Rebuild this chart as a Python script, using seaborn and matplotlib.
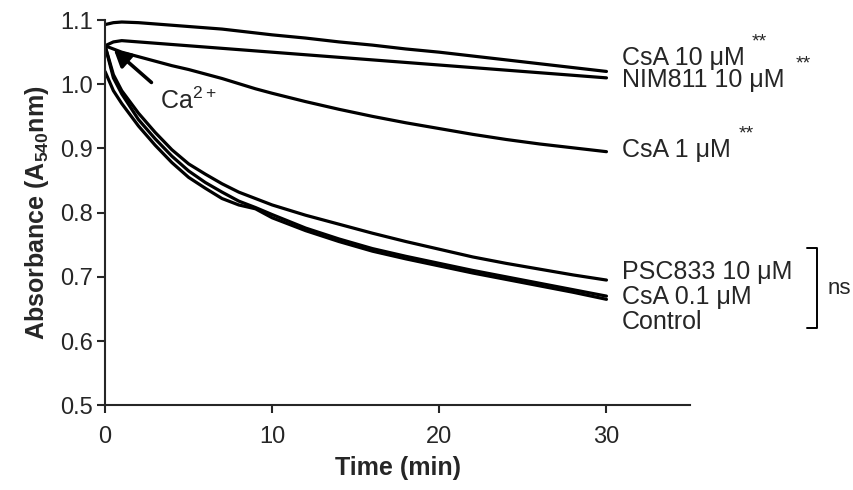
import pandas as pd
import matplotlib
matplotlib.use('Agg')
import matplotlib.pyplot as plt
import seaborn as sns

# time points (min) and absorbance traces
time = [0, 0.5, 1, 2, 3, 4, 5, 6, 7, 8, 9, 10, 12, 14, 16, 18, 20, 22, 24, 26, 28, 30]
csa10 = [1.093, 1.096, 1.097, 1.096, 1.094, 1.092, 1.090, 1.088, 1.086, 1.083, 1.080, 1.077,
         1.072, 1.066, 1.061, 1.055, 1.050, 1.044, 1.038, 1.032, 1.026, 1.020]
nim811 = [1.060, 1.066, 1.068, 1.066, 1.064, 1.062, 1.060, 1.058, 1.056, 1.054, 1.052, 1.050,
          1.046, 1.042, 1.038, 1.034, 1.030, 1.026, 1.022, 1.018, 1.014, 1.010]
csa1 = [1.060, 1.055, 1.050, 1.043, 1.036, 1.029, 1.023, 1.016, 1.009, 1.001, 0.993, 0.986,
        0.973, 0.961, 0.950, 0.940, 0.931, 0.922, 0.914, 0.907, 0.901, 0.895]
psc833 = [1.060, 1.015, 0.990, 0.955, 0.925, 0.898, 0.876, 0.860, 0.845, 0.832, 0.822, 0.812,
          0.796, 0.782, 0.768, 0.755, 0.743, 0.731, 0.721, 0.712, 0.703, 0.695]
csa01 = [1.060, 1.010, 0.985, 0.945, 0.915, 0.888, 0.865, 0.847, 0.832, 0.818, 0.808, 0.797,
         0.776, 0.759, 0.744, 0.732, 0.721, 0.710, 0.700, 0.690, 0.680, 0.670]
control = [1.020, 0.990, 0.970, 0.935, 0.905, 0.878, 0.855, 0.838, 0.822, 0.812, 0.806, 0.792,
           0.772, 0.755, 0.740, 0.728, 0.717, 0.706, 0.696, 0.686, 0.676, 0.665]

series = {'CsA 10': csa10, 'NIM811 10': nim811, 'CsA 1': csa1,
          'PSC833 10': psc833, 'CsA 0.1': csa01, 'Control': control}
df = pd.concat([pd.DataFrame({'time': time, 'abs': v, 'cond': k}) for k, v in series.items()])

sns.set_style('ticks')
plt.rcParams['font.family'] = ['Liberation Sans', 'DejaVu Sans']
plt.rcParams['mathtext.fontset'] = 'custom'
plt.rcParams['mathtext.rm'] = 'Liberation Sans'
plt.rcParams['mathtext.bf'] = 'Liberation Sans:bold'

fig = plt.figure(figsize=(8.54, 4.9), dpi=100)
ax = fig.add_axes([0.123, 0.173, 0.685, 0.786])
sns.lineplot(data=df, x='time', y='abs', hue='cond', palette=['black'] * 6,
             linewidth=2.3, legend=False, ax=ax)

ax.set_xlim(0, 35)
ax.set_ylim(0.5, 1.1)
ax.set_xticks([0, 10, 20, 30])
ax.set_yticks([0.5, 0.6, 0.7, 0.8, 0.9, 1.0, 1.1])
ax.set_yticklabels(['0.5', '0.6', '0.7', '0.8', '0.9', '1.0', '1.1'])
ax.tick_params(labelsize=17, width=1.5, length=6, direction='out')
ax.tick_params(axis='x', pad=9)
ax.tick_params(axis='y', pad=3)
for s in ['top', 'right']:
    ax.spines[s].set_visible(False)
for s in ['left', 'bottom']:
    ax.spines[s].set_linewidth(1.5)
ax.set_xlabel('Time (min)', fontsize=18, fontweight='bold', labelpad=6)
ax.set_ylabel(r'Absorbance (A$_{\mathbf{540}}$nm)', fontsize=18, fontweight='bold', labelpad=6)

# curve labels on the right
lx = 30.9
labels = [('CsA 10 \u03bcM', 1.041), ('NIM811 10 \u03bcM', 1.006), ('CsA 1 \u03bcM', 0.897),
          ('PSC833 10 \u03bcM', 0.707), ('CsA 0.1 \u03bcM', 0.668), ('Control', 0.629)]
for txt, y in labels:
    ax.text(lx, y, txt, fontsize=18, va='center', ha='left', clip_on=False)
for x, y in [(38.7, 1.066), (41.3, 1.032), (37.9, 0.923)]:
    ax.text(x, y, '**', fontsize=14, va='center', ha='left', clip_on=False)

# ns bracket
bx = 42.6
ax.plot([bx - 0.6, bx, bx, bx - 0.6], [0.745, 0.745, 0.620, 0.620], color='black',
        lw=1.4, clip_on=False)
ax.text(43.2, 0.682, 'ns', fontsize=16, va='center', ha='left', clip_on=False)

# Ca2+ addition arrow
ax.annotate('', xy=(0.4, 1.057), xytext=(2.9, 1.0),
            arrowprops=dict(arrowstyle='-|>,head_length=1.0,head_width=0.55',
                            color='black', lw=2.6))
ax.text(3.3, 0.975, r'Ca$^{2+}$', fontsize=18, va='center', ha='left')

fig.savefig('out.png', dpi=100)
